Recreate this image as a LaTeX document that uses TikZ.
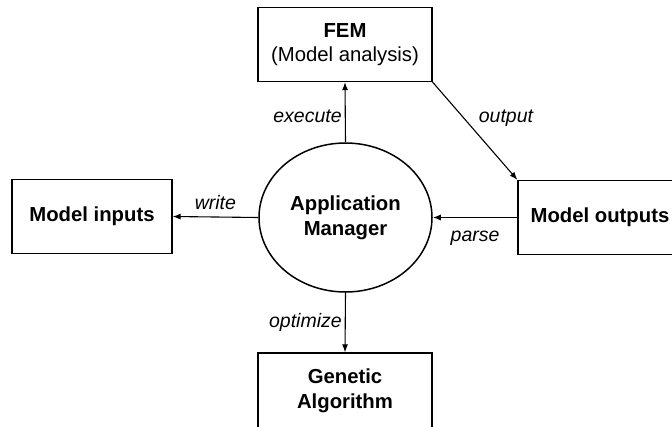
\documentclass[tikz,border=0pt]{standalone}
\usepackage{fontspec}
\setmainfont{Liberation Sans}
\usetikzlibrary{shapes.geometric,arrows.meta}
\begin{document}
\begin{tikzpicture}[x=1pt,y=-1pt,
  box/.style={draw,line width=1.2pt,minimum width=#1,minimum height=74pt,inner sep=0pt,align=center,font=\fontsize{20.3}{24.5}\selectfont},
  box/.default=174pt,
  conn/.style={line width=1.1pt,-{Latex[length=8pt,width=6pt]}},
  lab/.style={font=\fontsize{19.5}{22}\selectfont\itshape,inner sep=3pt}]
\useasboundingbox (0,0) rectangle (672,426);
\clip (0,0) rectangle (672,426);
\node[box] (fem) at (345,44.5) {\textbf{FEM}\\(Model analysis)};
\node[box=160pt] (inp) at (92,216.5) {\textbf{Model inputs}};
\node[box=164pt] (out) at (600,217.5) {\textbf{Model outputs}};
\node[box,minimum height=76pt] (ga) at (345,391) {\textbf{Genetic}\\\textbf{Algorithm}};
\node[draw,ellipse,line width=1.5pt,minimum width=173pt,minimum height=149pt,inner sep=0pt,align=center,font=\fontsize{20.3}{25}\selectfont\bfseries] (am) at (345.5,217.5) {Application\\Manager};
\draw[conn] (am.north) -- (fem.south) node[lab,midway,left,yshift=-4pt] {execute};
\draw[conn] (fem.south east) -- (out.north west) node[lab,pos=0.35,anchor=west,xshift=13pt,yshift=-2pt] {output};
\draw[conn] (am.west) -- (inp.east) node[lab,midway,above,yshift=4pt] {write};
\draw[conn] (out.west |- am.east) -- (am.east) node[lab,midway,below,yshift=-10pt] {parse};
\draw[conn] (am.south) -- (ga.north) node[lab,midway,left] {optimize};
\end{tikzpicture}
\end{document}
